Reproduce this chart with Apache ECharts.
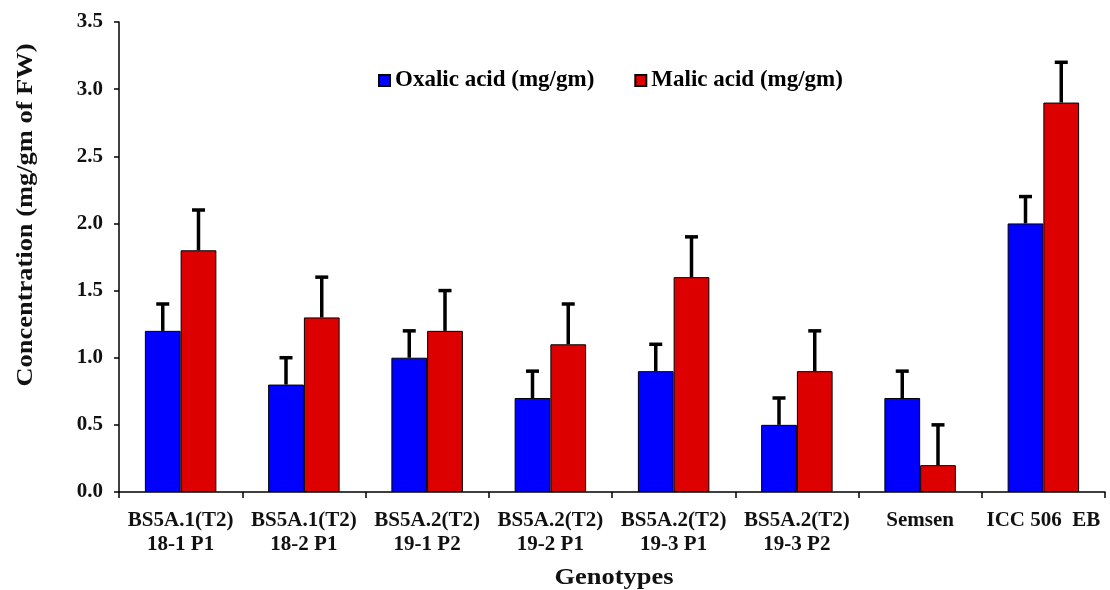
<!DOCTYPE html>
<html><head><meta charset="utf-8">
<script src="https://cdn.jsdelivr.net/npm/echarts@6/dist/echarts.min.js"></script>
<style>html,body{margin:0;padding:0;background:#fff}#c{width:1110px;height:590px}</style>
</head><body><div id="c"></div>
<script>
const categories = ['BS5A.1(T2)\n18-1 P1','BS5A.1(T2)\n18-2 P1','BS5A.2(T2)\n19-1 P2','BS5A.2(T2)\n19-2 P1','BS5A.2(T2)\n19-3 P1','BS5A.2(T2)\n19-3 P2','Semsen','ICC 506  EB'];
const oxalic = [1.2, 0.8, 1.0, 0.7, 0.9, 0.5, 0.7, 2.0];
const oxalicErr = [0.2, 0.2, 0.2, 0.2, 0.2, 0.2, 0.2, 0.2];
const malic = [1.8, 1.3, 1.2, 1.1, 1.6, 0.9, 0.2, 2.9];
const malicErr = [0.3, 0.3, 0.3, 0.3, 0.3, 0.3, 0.3, 0.3];
const yTicks = ['0.0','0.5','1.0','1.5','2.0','2.5','3.0','3.5'];

const FONT = '"Liberation Serif", "Times New Roman", serif';
const BAR_FRAC = 0.29;
function errSeries(vals, errs, side) {
  return {
    type: 'custom',
    silent: true,
    z: 1,
    data: vals.map((v, i) => [i, v, v + errs[i]]),
    renderItem: function (params, api) {
      const band = api.size([1, 0])[0];
      const off = side * band * BAR_FRAC / 2;
      const p0 = api.coord([api.value(0), api.value(1)]);
      const p1 = api.coord([api.value(0), api.value(2)]);
      const x = p0[0] + off;
      const st = { stroke: '#000', lineWidth: 3.5 };
      return { type: 'group', children: [
        { type: 'line', shape: { x1: x, y1: p0[1], x2: x, y2: p1[1] }, style: st },
        { type: 'line', shape: { x1: x - 6.5, y1: p1[1], x2: x + 6.5, y2: p1[1] }, style: st }
      ]};
    }
  };
}
const chart = echarts.init(document.getElementById('c'));
chart.setOption({
  animation: false,
  textStyle: { fontFamily: FONT },
  grid: { left: 119, right: 5, top: 22, bottom: 98, containLabel: false },
  legend: {
    left: 373, top: 64, itemWidth: 11, itemHeight: 11, itemGap: 40, icon: 'rect',
    textStyle: { fontFamily: FONT, fontWeight: 'bold', fontSize: 23, color: '#000' },
    data: ['Oxalic acid (mg/gm)', 'Malic acid (mg/gm)']
  },
  xAxis: {
    type: 'category', data: categories, boundaryGap: true,
    axisLine: { lineStyle: { color: '#000', width: 1.5 } },
    axisTick: { show: true, length: 6, lineStyle: { color: '#000', width: 1.5 } },
    axisLabel: { interval: 0, color: '#111', fontFamily: FONT, fontWeight: 'bold', fontSize: 21, lineHeight: 24, margin: 17 }
  },
  yAxis: {
    type: 'value', min: 0, max: 3.5, interval: 0.5,
    splitLine: { show: false },
    axisLine: { show: true, lineStyle: { color: '#000', width: 1.5 } },
    axisTick: { show: true, length: 5, lineStyle: { color: '#000', width: 1.5 } },
    axisLabel: { color: '#111', fontFamily: FONT, fontWeight: 'bold', fontSize: 21, margin: 16,
      formatter: v => yTicks[Math.round(v / 0.5)] }
  },
  graphic: [
    { type: 'text', x: 26, y: 215, rotation: Math.PI / 2, scaleX: 1.15,
      style: { text: 'Concentration (mg/gm of FW)', fill: '#111', font: 'bold 23px ' + FONT, textAlign: 'center', textVerticalAlign: 'middle' } },
    { type: 'text', x: 614, y: 578, scaleX: 1.15,
      style: { text: 'Genotypes', fill: '#111', font: 'bold 23px ' + FONT, textAlign: 'center', textVerticalAlign: 'middle' } }
  ],
  series: [
    { name: 'Oxalic acid (mg/gm)', type: 'bar', data: oxalic, barWidth: (BAR_FRAC * 100) + '%', barGap: '0%', z: 2,
      itemStyle: { color: '#0000ff', borderColor: '#000', borderWidth: 1 } },
    { name: 'Malic acid (mg/gm)', type: 'bar', data: malic, barWidth: (BAR_FRAC * 100) + '%', barGap: '0%', z: 2,
      itemStyle: { color: '#dd0000', borderColor: '#000', borderWidth: 1 } },
    errSeries(oxalic, oxalicErr, -1),
    errSeries(malic, malicErr, 1)
  ]
});
</script></body></html>
